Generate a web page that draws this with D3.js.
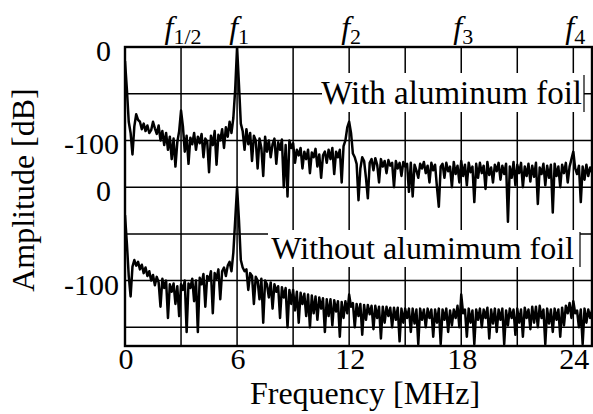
<!DOCTYPE html>
<html lang="en">
	<head>
		<meta charset="utf-8">
		<title>Amplitude spectrum</title>
		<script src="https://cdn.jsdelivr.net/npm/d3@7"></script>
		<style>
			body { margin: 0; background: #fff; }
			text { font-family: "Liberation Serif", "Times New Roman", serif; fill: #000; }
		</style>
	</head>
	<body>
		<script>

		// sample spacing of the spectra [MHz]
		var freqStep = 0.1;

		// with aluminum foil, dB, one value per 0.1 MHz from 0 to 25 MHz
		var withFoil = [
			-15,-45,-80,-92,-115,-85,-72,-78,-80,-88,
			-82,-90,-84,-92,-89,-80,-87,-93,-84,-100,
			-90,-105,-92,-110,-96,-120,-98,-128,-102,-90,
			-68,-85,-112,-95,-125,-97,-104,-92,-110,-96,
			-103,-93,-118,-98,-101,-134,-95,-105,-90,-126,
			-94,-100,-88,-108,-86,-96,-80,-92,-76,-45,
			0,-40,-82,-90,-110,-88,-104,-92,-122,-95,
			-100,-130,-98,-108,-138,-96,-112,-100,-118,-104,
			-98,-125,-102,-110,-99,-150,-105,-160,-100,-108,
			-103,-124,-110,-116,-108,-130,-112,-120,-110,-135,
			-113,-118,-109,-128,-115,-140,-116,-112,-124,-110,
			-120,-108,-136,-112,-118,-110,-145,-106,-100,-86,
			-80,-92,-114,-118,-125,-164,-130,-118,-122,-140,
			-162,-124,-120,-132,-119,-126,-145,-120,-128,-122,
			-135,-121,-127,-124,-150,-122,-130,-124,-138,-123,
			-128,-125,-155,-124,-160,-126,-132,-140,-125,-130,
			-123,-135,-127,-145,-124,-132,-126,-150,-171,-128,
			-125,-140,-124,-133,-128,-150,-123,-136,-127,-145,
			-122,-138,-126,-148,-124,-134,-128,-166,-125,-140,
			-124,-135,-127,-152,-123,-137,-129,-145,-126,-133,
			-124,-142,-127,-136,-125,-187,-128,-140,-123,-148,
			-126,-135,-124,-150,-128,-138,-125,-144,-127,-139,
			-124,-168,-129,-136,-125,-148,-127,-140,-126,-177,
			-125,-138,-128,-150,-126,-135,-124,-145,-128,-120,
			-112,-130,-136,-127,-166,-128,-142,-126,-138,-129,
			-134
		];

		// without aluminum foil, dB
		var withoutFoil = [
			-30,-60,-95,-117,-85,-78,-84,-80,-88,-83,
			-92,-86,-95,-90,-100,-94,-105,-96,-102,-128,
			-98,-108,-100,-140,-104,-112,-103,-125,-106,-138,
			-104,-110,-100,-155,-103,-108,-98,-122,-100,-155,
			-97,-104,-93,-128,-95,-100,-90,-135,-92,-98,
			-88,-120,-90,-86,-95,-84,-80,-90,-70,-35,
			0,-35,-78,-86,-90,-88,-110,-92,-95,-125,
			-96,-100,-120,-98,-145,-100,-104,-118,-102,-130,
			-104,-112,-106,-140,-107,-118,-108,-150,-110,-125,
			-110,-132,-112,-145,-113,-125,-114,-138,-115,-150,
			-116,-135,-117,-142,-118,-130,-119,-155,-120,-138,
			-120,-148,-121,-133,-122,-160,-123,-140,-122,-135,
			-115,-128,-124,-150,-125,-138,-125,-158,-126,-142,
			-126,-136,-127,-152,-127,-140,-128,-162,-128,-145,
			-128,-138,-129,-150,-129,-142,-129,-165,-130,-145,
			-130,-140,-130,-155,-130,-146,-131,-168,-130,-142,
			-131,-150,-130,-140,-131,-160,-131,-145,-130,-168,
			-131,-142,-130,-155,-132,-148,-131,-140,-127,-150,
			-115,-135,-131,-160,-130,-145,-132,-168,-131,-142,
			-130,-150,-131,-140,-129,-162,-131,-146,-130,-155,
			-131,-142,-130,-168,-132,-148,-130,-140,-131,-158,
			-130,-145,-131,-160,-129,-140,-131,-152,-128,-145,
			-128,-150,-127,-140,-131,-168,-130,-146,-131,-155,
			-130,-142,-131,-160,-129,-148,-127,-135,-124,-140,
			-122,-135,-132,-150,-131,-168,-130,-145,-131,-140,
			-132
		];

		// the lower trace is drawn 150 dB below the upper one
		var panelOffset = -150;

		var xTicks = [0, 6, 12, 18, 24];
		var xGrid = [3, 6, 9, 12, 15, 18, 21, 24];
		var yGrid = [-50, -100, -150, -200, -250, -300];
		var yTicks = [0, -100, -150, -250];
		var yTickLabels = ["0", "-100", "0", "-100"];

		// harmonic markers on top
		var harmonicFreq = [3, 6, 12, 18, 24];
		var harmonicSub = ["1/2", "1", "2", "3", "4"];

		//Width and height
		var w = 593;
		var h = 414;
		var pL = 125, pR = 592, pT = 47, pB = 346;

		var x = d3.scaleLinear().domain([0, 25]).range([pL, pR]);
		var y = d3.scaleLinear().domain([-320, 0]).range([pB, pT]);

		var svg = d3.select("body")
					.append("svg")
					.attr("width", w)
					.attr("height", h);

		svg.append("clipPath").attr("id", "plot")
			.append("rect")
			.attr("x", pL).attr("y", pT)
			.attr("width", pR - pL).attr("height", pB - pT);

		//Grid
		svg.append("g").selectAll("line")
			.data(xGrid).enter().append("line")
			.attr("x1", function(d) { return x(d); })
			.attr("x2", function(d) { return x(d); })
			.attr("y1", pT).attr("y2", pB)
			.attr("stroke", "#000").attr("stroke-width", 1.5);

		svg.append("g").selectAll("line")
			.data(yGrid).enter().append("line")
			.attr("x1", pL).attr("x2", pR)
			.attr("y1", function(d) { return y(d); })
			.attr("y2", function(d) { return y(d); })
			.attr("stroke", "#000").attr("stroke-width", 1.5);

		//Traces
		var line = function(offset) {
			return d3.line()
				.x(function(d, i) { return x(i * freqStep); })
				.y(function(d) { return y(d + offset); });
		};

		var traces = svg.append("g").attr("clip-path", "url(#plot)");
		traces.append("path")
			.datum(withFoil)
			.attr("d", line(0))
			.attr("fill", "none").attr("stroke", "#000")
			.attr("stroke-width", 2.5).attr("stroke-linejoin", "round");
		traces.append("path")
			.datum(withoutFoil)
			.attr("d", line(panelOffset))
			.attr("fill", "none").attr("stroke", "#000")
			.attr("stroke-width", 2.5).attr("stroke-linejoin", "round");

		//Labels inside the plot
		var boxes = [
			{ text: "With aluminum foil", size: 33, x0: 322, x1: 584, y0: 73, y1: 112, tx: 582, ty: 104 },
			{ text: "Without alumimum foil", size: 32, x0: 268, x1: 580, y0: 230, y1: 267, tx: 574, ty: 259 }
		];
		var bg = svg.append("g").selectAll("g").data(boxes).enter().append("g");
		bg.append("rect")
			.attr("x", function(d) { return d.x0; })
			.attr("y", function(d) { return d.y0; })
			.attr("width", function(d) { return d.x1 - d.x0; })
			.attr("height", function(d) { return d.y1 - d.y0; })
			.attr("fill", "#fff");
		bg.append("line")
			.attr("x1", function(d) { return d.x1; })
			.attr("x2", function(d) { return d.x1; })
			.attr("y1", function(d) { return d.y0 + 2; })
			.attr("y2", function(d) { return d.y1; })
			.attr("stroke", "#000").attr("stroke-width", 1.2);
		bg.append("text")
			.attr("x", function(d) { return d.tx; })
			.attr("y", function(d) { return d.ty; })
			.attr("text-anchor", "end")
			.style("font-size", function(d) { return d.size + "px"; })
			.text(function(d) { return d.text; });

		//Frame
		svg.append("rect")
			.attr("x", pL).attr("y", pT)
			.attr("width", pR - pL).attr("height", pB - pT)
			.attr("fill", "none").attr("stroke", "#000").attr("stroke-width", 2.4);

		//Axis labels
		svg.append("g").selectAll("text")
			.data(xTicks).enter().append("text")
			.attr("x", function(d) { return x(d) + 1; })
			.attr("y", 369)
			.attr("text-anchor", "middle")
			.style("font-size", "30px")
			.text(function(d) { return d; });

		svg.append("g").selectAll("text")
			.data(yTicks).enter().append("text")
			.attr("x", function(d, i) { return yTickLabels[i] === "0" ? 111 : 119; })
			.attr("y", function(d) { return y(d) + 14; })
			.attr("text-anchor", "end")
			.style("font-size", "30px")
			.text(function(d, i) { return yTickLabels[i]; });

		svg.append("text")
			.attr("x", 365).attr("y", 404)
			.attr("text-anchor", "middle")
			.style("font-size", "32px")
			.text("Frequency [MHz]");

		svg.append("text")
			.attr("transform", "translate(34,190) rotate(-90)")
			.attr("text-anchor", "middle")
			.style("font-size", "32px")
			.text("Amplitude [dB]");

		//Harmonic labels
		var hl = svg.append("g").selectAll("text")
			.data(harmonicFreq).enter().append("text")
			.attr("x", function(d) { return x(d) + 2; })
			.attr("y", 38)
			.attr("text-anchor", "middle");
		hl.append("tspan")
			.style("font-size", "32px").style("font-style", "italic")
			.text("f");
		hl.append("tspan")
			.style("font-size", "22px")
			.attr("dy", 6)
			.text(function(d, i) { return harmonicSub[i]; });

		</script>
	</body>
</html>
